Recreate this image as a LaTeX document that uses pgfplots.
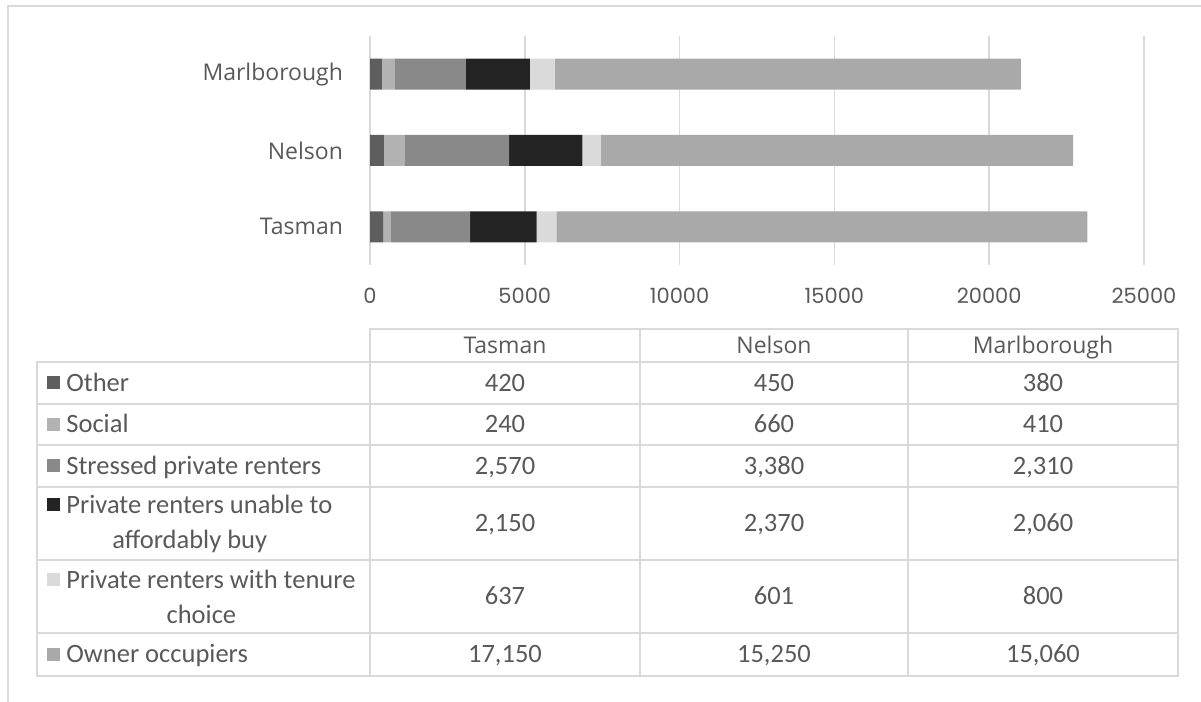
\documentclass[border=0pt]{standalone}
\usepackage{fontspec}
\usepackage{pgfplots}
\usepackage{pgfplotstable}
\pgfplotsset{compat=1.18}
\setmainfont{Carlito}
\newfontfamily\catfont{Open Sans}
\newfontfamily\tickfont{Poppins}

\definecolor{txt}{HTML}{595959}
\definecolor{gridc}{HTML}{D9D9D9}
\definecolor{cOther}{HTML}{5E5E5E}
\definecolor{cSocial}{HTML}{B2B2B2}
\definecolor{cStressed}{HTML}{898989}
\definecolor{cUnable}{HTML}{232323}
\definecolor{cTenure}{HTML}{DADADA}
\definecolor{cOwner}{HTML}{A9A9A9}

% households by tenure group
\pgfplotstableread{
y region other social stressed unable tenure owner
0 Tasman 420 240 2570 2150 637 17150
1 Nelson 450 660 3380 2370 601 15250
2 Marlborough 380 410 2310 2060 800 15060
}\housing

\newcommand\bodyfont{\fontsize{13.25pt}{17.5pt}\selectfont}
\newcommand\catsize{\catfont\fontsize{11.5pt}{14pt}\selectfont}
\newcommand\key[1]{\textcolor{#1}{\raisebox{1pt}{\rule{6.5pt}{6.5pt}}}\hspace{3pt}}

\begin{document}
\begin{tikzpicture}
\useasboundingbox (0,0) rectangle (600.5pt,351pt);

\begin{axis}[
  at={(185pt,218.5pt)}, anchor=south west,
  scale only axis, width=387pt, height=114.5pt,
  xbar stacked, bar width=15.5pt,
  xmin=0, xmax=25000, ymin=-0.5, ymax=2.5,
  ytick={0,1,2}, yticklabels={Tasman,Nelson,Marlborough},
  xtick={0,5000,...,25000},
  scaled x ticks=false,
  axis line style={draw=none},
  major tick length=0pt,
  xmajorgrids,
  grid style={color=gridc, line width=0.75pt},
  /pgf/number format/1000 sep={},
  /pgf/number format/assume math mode=true,
  xticklabel style={font=\tickfont\fontsize{10.5pt}{12pt}\selectfont, text=txt},
  yticklabel style={font=\catsize, text=txt},
  xticklabel shift=8pt,
  yticklabel shift=10pt,
  every axis plot/.append style={draw=none},
]
\addplot[fill=cOther]    table[x=other,y=y]{\housing};
\addplot[fill=cSocial]   table[x=social,y=y]{\housing};
\addplot[fill=cStressed] table[x=stressed,y=y]{\housing};
\addplot[fill=cUnable]   table[x=unable,y=y]{\housing};
\addplot[fill=cTenure]   table[x=tenure,y=y]{\housing};
\addplot[fill=cOwner]    table[x=owner,y=y]{\housing};
\end{axis}

\begin{scope}[x=0.5pt, y=-0.5pt, yshift=351pt]
  % chart frame
  \draw[gridc, line width=1pt] (8,702) -- (8,6.5) -- (1201,6.5);

  % data table grid
  \begin{scope}[gridc, line width=0.9pt]
    \draw (370,329) rectangle (1178,676);
    \draw (37,362) rectangle (370,676);
    \foreach \yy in {362,404,445,487,560,633} \draw (37,\yy) -- (1178,\yy);
    \foreach \xx in {640,908} \draw (\xx,329) -- (\xx,676);
  \end{scope}

  % column headers
  \foreach \name/\xx in {Tasman/505, Nelson/774, Marlborough/1043}
    \node[font=\catsize, text=txt, inner sep=0pt, text height=8.2pt, text depth=0pt]
      at (\xx,345.5) {\name};

  % row labels with legend keys
  \begin{scope}[every node/.style={font=\bodyfont, text=txt, inner sep=0pt, anchor=west}]
    \begin{scope}[every node/.append style={text height=8.5pt, text depth=0pt}]
      \node at (47,383)   {\key{cOther}Other};
      \node at (47,424.5) {\key{cSocial}Social};
      \node at (47,466)   {\key{cStressed}Stressed private renters};
      \node at (47,654.5) {\key{cOwner}Owner occupiers};
    \end{scope}
    \node[align=center] at (47,523.5) {\key{cUnable}Private renters unable to\\affordably buy};
    \node[align=center] at (47,596.5) {\key{cTenure}Private renters with tenure\\choice};
  \end{scope}

  % values
  \foreach \col/\yy in {other/383, social/424.5, stressed/466, unable/523.5, tenure/596.5, owner/654.5} {
    \foreach \r/\xx in {0/505, 1/774, 2/1043} {
      \pgfplotstablegetelem{\r}{\col}\of\housing
      \node[font=\bodyfont, text=txt, inner sep=0pt, text height=8.5pt, text depth=0pt] at (\xx,\yy)
        {\pgfmathprintnumber[1000 sep={,}, assume math mode=true]{\pgfplotsretval}};
    }
  }
\end{scope}
\end{tikzpicture}
\end{document}
